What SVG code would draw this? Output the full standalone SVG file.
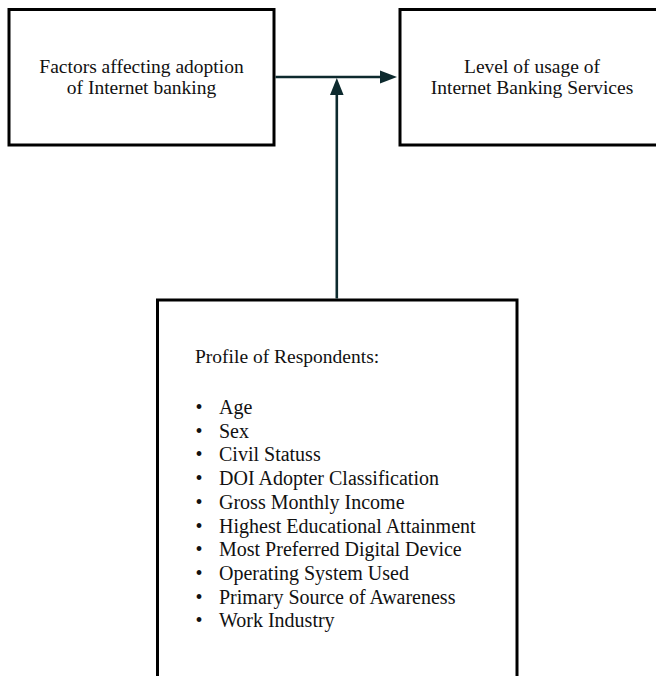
<svg xmlns="http://www.w3.org/2000/svg" width="656" height="676" viewBox="0 0 656 676">
<style>
.box{fill:#fff;stroke:#000;stroke-width:3}
.t{font-family:"Liberation Serif","Times New Roman",serif;font-size:19.5px;fill:#111}
.l{font-size:20px}
.c{text-anchor:middle}
.conn{stroke:#0d2a2e;stroke-width:2.6;fill:none}
</style>
<rect width="656" height="676" fill="#fff"/>
<g id="node-factors">
<rect class="box" x="9" y="9.5" width="265" height="135.5"/>
<text class="t c" x="141.5" y="73">Factors affecting adoption</text>
<text class="t c" x="141.5" y="94">of Internet banking</text>
</g>
<g id="node-usage">
<rect class="box" x="400" y="9.5" width="264" height="135.5"/>
<text class="t c" x="532" y="73">Level of usage of</text>
<text class="t c" x="532" y="94">Internet Banking Services</text>
</g>
<g id="node-profile">
<rect class="box" x="157.5" y="300" width="359.5" height="390"/>
<text class="t" x="195" y="363">Profile of Respondents:</text>
<g class="t l">
<text x="195.5" y="414">•</text><text x="219" y="414">Age</text>
<text x="195.5" y="437.7">•</text><text x="219" y="437.7">Sex</text>
<text x="195.5" y="461.4">•</text><text x="219" y="461.4">Civil Statuss</text>
<text x="195.5" y="485.1">•</text><text x="219" y="485.1">DOI Adopter Classification</text>
<text x="195.5" y="508.8">•</text><text x="219" y="508.8">Gross Monthly Income</text>
<text x="195.5" y="532.5">•</text><text x="219" y="532.5">Highest Educational Attainment</text>
<text x="195.5" y="556.2">•</text><text x="219" y="556.2">Most Preferred Digital Device</text>
<text x="195.5" y="579.9">•</text><text x="219" y="579.9">Operating System Used</text>
<text x="195.5" y="603.6">•</text><text x="219" y="603.6">Primary Source of Awareness</text>
<text x="195.5" y="627.3">•</text><text x="219" y="627.3">Work Industry</text>
</g>
</g>
<g id="connectors">
<path class="conn" d="M275.5,77 H385"/>
<path d="M380,70.5 L397,77 L380,83.5 Z" fill="#0d2a2e"/>
<path class="conn" d="M336.8,298.5 V92"/>
<path d="M330,95 L336.8,78 L343.6,95 Z" fill="#0d2a2e"/>
</g>
</svg>
